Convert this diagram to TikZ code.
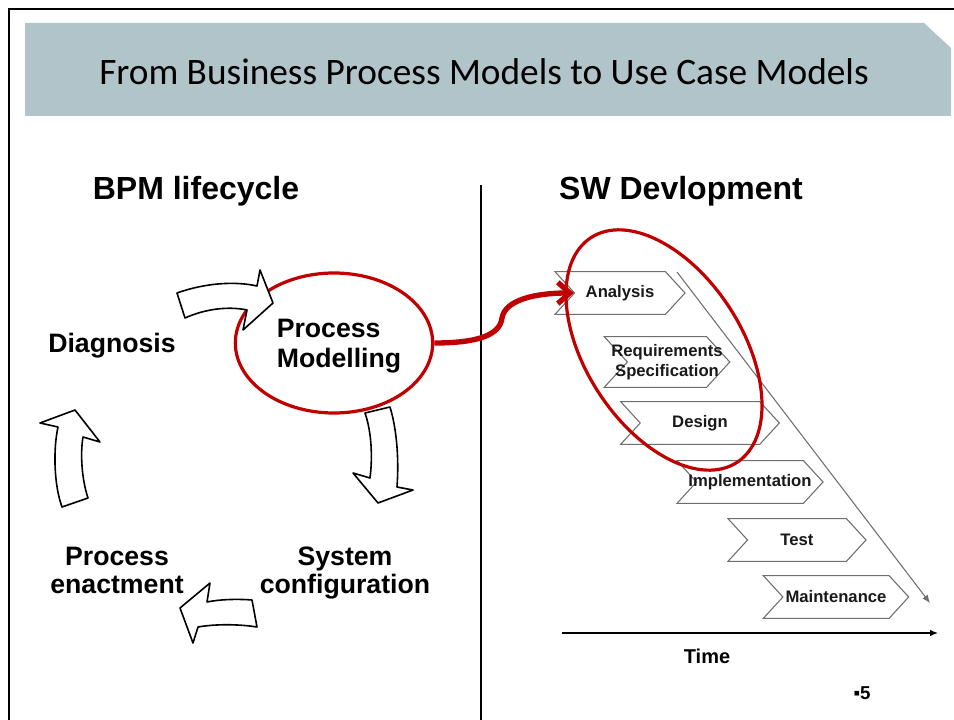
\documentclass[tikz,border=0pt]{standalone}
\usepackage{fontspec}
\setmainfont{Liberation Sans}
\newfontfamily\titlefont{Carlito}
\usetikzlibrary{arrows.meta,positioning,shapes.geometric,shapes.symbols}

\definecolor{titlebar}{RGB}{176,196,201}
\definecolor{markred}{RGB}{192,0,0}
\definecolor{stepgray}{RGB}{110,110,110}

\tikzset{
  phase/.style={font=\bfseries\fontsize{20}{21}\selectfont, align=center},
  heading/.style={font=\bfseries\fontsize{24}{28}\selectfont},
  cyclearrow/.style={draw=black, fill=white, line width=1.2pt, line join=round},
  wstep/.style={signal, signal to=east, signal from=west, signal pointer angle=95,
    draw=stepgray, fill=white, line width=0.8pt, minimum height=32pt,
    inner xsep=-12pt, inner ysep=1pt,
    font=\bfseries\fontsize{12.5}{15}\selectfont, text=black!90, align=center}
}

\begin{document}
\begin{tikzpicture}[x=0.75pt,y=-0.75pt]
  \useasboundingbox (0,0) rectangle (954,720);
  % frame and title bar
  \draw[line width=2pt] (9,720) -- (9,9) -- (954,9);
  \fill[titlebar] (25,23) -- (924,23) -- (951,48) -- (951,116) -- (25,116) -- cycle;
  \node[font=\titlefont\fontsize{28}{32}\selectfont] (title) at (484,72)
    {From Business Process Models to Use Case Models};
  \draw[line width=2.2pt] (481,185) -- (481,720);

  \node[heading] (bpm) at (196,191) {BPM lifecycle};
  \node[heading] (sw) at (681,191) {SW Devlopment};

  % BPM lifecycle
  \node[phase] (diag) at (112,346) {Diagnosis};
  \node[ellipse, draw=markred, line width=2.4pt, minimum width=148pt, minimum height=105pt] (pm) at (334,343) {};
  \node[phase, align=left, font=\bfseries\fontsize{20}{22.5}\selectfont] (pmtext) at (339,346) {Process\\Modelling};
  \node[phase] (sys) at (345,573) {System\\configuration};
  \node[phase] (enact) at (117,570) {Process\\enactment};

  \draw[cyclearrow] (177,293) .. controls (205,283) and (235,281) .. (257,286)
    -- (260,270) -- (273,303) -- (243,330) -- (247,310)
    .. controls (228,306) and (205,309) .. (185,318) -- cycle;
  \draw[cyclearrow] (390,407) .. controls (397,430) and (399,460) .. (397,487)
    -- (413,490) -- (378,503) -- (353,473) -- (370,478)
    .. controls (373,455) and (371,430) .. (365,413) -- cycle;
  \draw[cyclearrow] (257,627) .. controls (238,624) and (215,624) .. (198,627)
    -- (193,643) -- (180,608) -- (210,583) -- (207,602)
    .. controls (222,599) and (240,599) .. (252,600) -- cycle;
  \draw[cyclearrow] (62,507) .. controls (54,485) and (53,450) .. (58,427)
    -- (40,423) -- (75,410) -- (100,442) -- (83,437)
    .. controls (80,455) and (82,480) .. (88,498) -- cycle;

  % SW development steps
  \coordinate (flow0) at (677,272);
  \coordinate (flow1) at (930,603);
  \draw[stepgray, line width=0.8pt, -{Latex[length=6pt,width=5pt]}] (flow0) -- (flow1);
  \node[wstep, minimum width=97.5pt] (an) at (620,293) {Analysis};
  \node[wstep, minimum width=91.5pt, minimum height=38pt] (req) at (667,362) {Requirements\\Specification};
  \node[wstep, minimum width=119pt] (des) at (700,423) {Design};
  \node[wstep, minimum width=109.5pt] (impl) at (750,482) {Implementation};
  \node[wstep, minimum width=103.5pt] (test) at (797,540) {Test};
  \node[wstep, minimum width=109pt] (maint) at (836,597) {Maintenance};

  \coordinate (time0) at (562,633);
  \coordinate (time1) at (938,633);
  \draw[line width=1pt, -{Latex[length=6pt,width=5pt]}] (time0) -- (time1);
  \node[font=\bfseries\fontsize{15}{18}\selectfont] (time) at (707,656) {Time};

  % focus on modelling
  \node[ellipse, draw=markred, line width=2.4pt, rotate=-57, minimum width=201pt, minimum height=117pt] (focus) at (664,350) {};
  \draw[markred, line width=4pt, -{Straight Barb[length=9pt,width=16pt]}]
    (pm.east) .. controls (475,343) and (500,336) .. (502,318)
    .. controls (505,300) and (535,293) .. (an.west);

  \node[font=\bfseries\fontsize{14}{16}\selectfont] (pageno) at (862,693) {▪5};
\end{tikzpicture}
\end{document}
